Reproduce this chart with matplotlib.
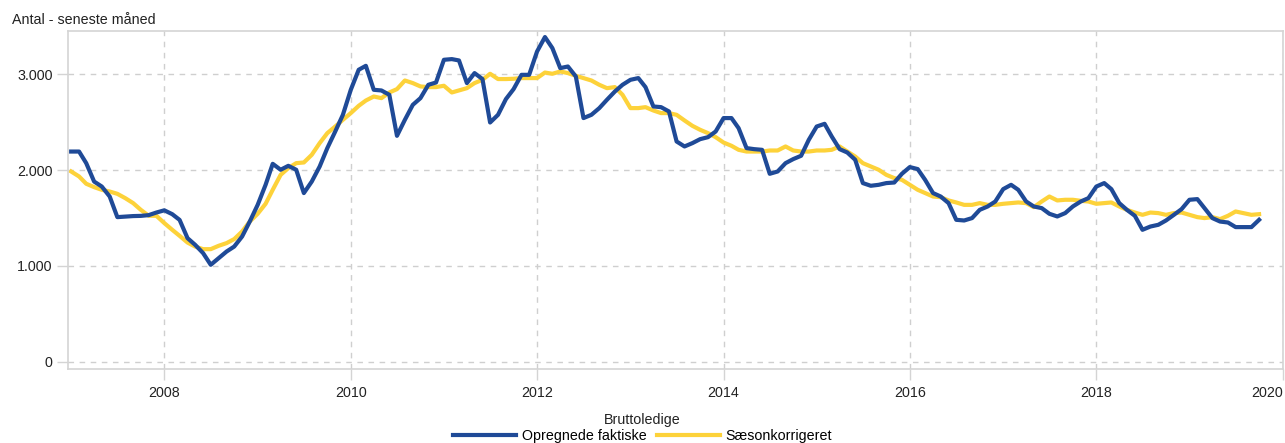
import matplotlib
matplotlib.use("Agg")
import matplotlib.pyplot as plt
import matplotlib.dates as mdates
import matplotlib.ticker as ticker
import pandas as pd
import datetime

start_month = "2007-01-01"

faktiske = [
    2193, 2193, 2072, 1880, 1828, 1724, 1509, 1515, 1520, 1522, 1530, 1557,
    1580, 1540, 1480, 1290, 1220, 1134, 1012, 1081, 1150, 1202, 1307, 1463,
    1637, 1846, 2065, 2003, 2044, 2003, 1760, 1880, 2037, 2229, 2402, 2576,
    2837, 3046, 3087, 2837, 2830, 2785, 2357, 2524, 2680, 2750, 2889, 2913,
    3150, 3157, 3143, 2907, 3011, 2949, 2496, 2576, 2740, 2844, 2993, 2993,
    3236, 3387, 3272, 3063, 3080, 2976, 2542, 2576, 2646, 2733, 2819, 2889,
    2941, 2959, 2865, 2663, 2656, 2611, 2298, 2246, 2281, 2322, 2343, 2402,
    2542, 2542, 2437, 2229, 2218, 2211, 1961, 1985, 2072, 2114, 2149, 2315,
    2454, 2482, 2350, 2218, 2183, 2107, 1864, 1836, 1846, 1864, 1870, 1961,
    2031, 2010, 1898, 1760, 1724, 1655, 1481, 1474, 1499, 1585, 1620, 1672,
    1801, 1846, 1794, 1672, 1620, 1603, 1544, 1516, 1551, 1620, 1672, 1707,
    1828, 1864, 1801, 1655, 1585, 1523, 1377, 1411, 1429, 1474, 1533, 1592,
    1690, 1697, 1603, 1499, 1463, 1453, 1405, 1405, 1405, 1481,
]

saesonkorrigeret = [
    1985, 1933, 1857, 1822, 1794, 1776, 1752, 1707, 1655, 1585, 1523, 1523,
    1447, 1377, 1314, 1244, 1202, 1175, 1175, 1210, 1238, 1280, 1359, 1463,
    1544, 1648, 1794, 1950, 2020, 2072, 2079, 2159, 2281, 2385, 2454, 2524,
    2594, 2670, 2725, 2767, 2750, 2809, 2844, 2934, 2907, 2872, 2865, 2865,
    2879, 2809, 2830, 2854, 2907, 2941, 3004, 2949, 2949, 2952, 2959, 2959,
    2959, 3017, 3004, 3028, 3011, 2983, 2959, 2934, 2889, 2854, 2865, 2785,
    2646, 2646, 2656, 2621, 2594, 2594, 2576, 2517, 2461, 2420, 2385, 2343,
    2287, 2253, 2211, 2193, 2193, 2193, 2204, 2204, 2246, 2204, 2193, 2193,
    2204, 2204, 2211, 2246, 2193, 2141, 2072, 2037, 2003, 1950, 1916, 1898,
    1846, 1794, 1760, 1724, 1717, 1683, 1662, 1637, 1637, 1655, 1637, 1637,
    1648, 1655, 1662, 1655, 1613, 1672, 1724, 1683, 1690, 1690, 1679, 1672,
    1648, 1655, 1662, 1620, 1585, 1557, 1533, 1557, 1551, 1533, 1551, 1557,
    1533, 1509, 1499, 1509, 1488, 1523, 1568, 1551, 1533, 1540,
]

series_names = ["Opregnede faktiske", "Sæsonkorrigeret"]
series_colors = ["#1f4a97", "#fdd23a"]
y_ticks = [0, 1000, 2000, 3000]
x_years = [2008, 2010, 2012, 2014, 2016, 2018, 2020]
y_label = "Antal - seneste måned"
legend_title = "Bruttoledige"


def danish_thousands(v, pos):
    return "{:,.0f}".format(v).replace(",", ".")


def main():
    plt.rcParams["font.family"] = ["Liberation Sans", "DejaVu Sans"]
    months = pd.date_range(start_month, periods=len(faktiske), freq="MS")

    fig = plt.figure(figsize=(12.85, 4.43), dpi=100)
    ax = fig.add_axes([0.053, 0.167, 0.9455, 0.763])

    ax.plot(months, faktiske, color=series_colors[0], lw=3.0,
            label=series_names[0], solid_joinstyle="round", zorder=3)
    ax.plot(months, saesonkorrigeret, color=series_colors[1], lw=3.0,
            label=series_names[1], solid_joinstyle="round", zorder=2)

    ax.set_xlim(datetime.date(2006, 12, 20), datetime.date(2020, 1, 3))
    ax.set_ylim(-75, 3450)
    ax.set_yticks(y_ticks)
    ax.yaxis.set_major_formatter(ticker.FuncFormatter(danish_thousands))
    ax.set_xticks([datetime.date(y, 1, 1) for y in x_years])
    ax.xaxis.set_major_formatter(mdates.DateFormatter("%Y"))

    ax.grid(True, color="#cfcfcf", linestyle=(0, (4, 4)), linewidth=1.0)
    for s in ax.spines.values():
        s.set_color("#d4d4d4")
        s.set_linewidth(1.2)
    ax.tick_params(axis="both", colors="#d4d4d4", labelcolor="#222222",
                   labelsize=10.3, length=8, width=1.0)
    ax.tick_params(axis="x", pad=4)
    ax.tick_params(axis="y", pad=3)
    # last year label would run off the right edge
    ax.get_xticklabels()[-1].set_horizontalalignment("right")

    fig.text(0.009, 0.94, y_label, fontsize=10.3, color="#222222",
             ha="left", va="bottom")

    leg = fig.legend(loc="lower center", bbox_to_anchor=(0.5, -0.014), ncol=2,
                     frameon=False, title=legend_title, fontsize=10.3,
                     title_fontsize=10.3, handlelength=4.4, handletextpad=0.4,
                     columnspacing=0.7, borderaxespad=0.0, labelspacing=0.2)
    for line in leg.get_lines():
        line.set_linewidth(3.0)
    leg.get_title().set_color("#222222")

    fig.savefig("out.png", dpi=100)


if __name__ == "__main__":
    main()
